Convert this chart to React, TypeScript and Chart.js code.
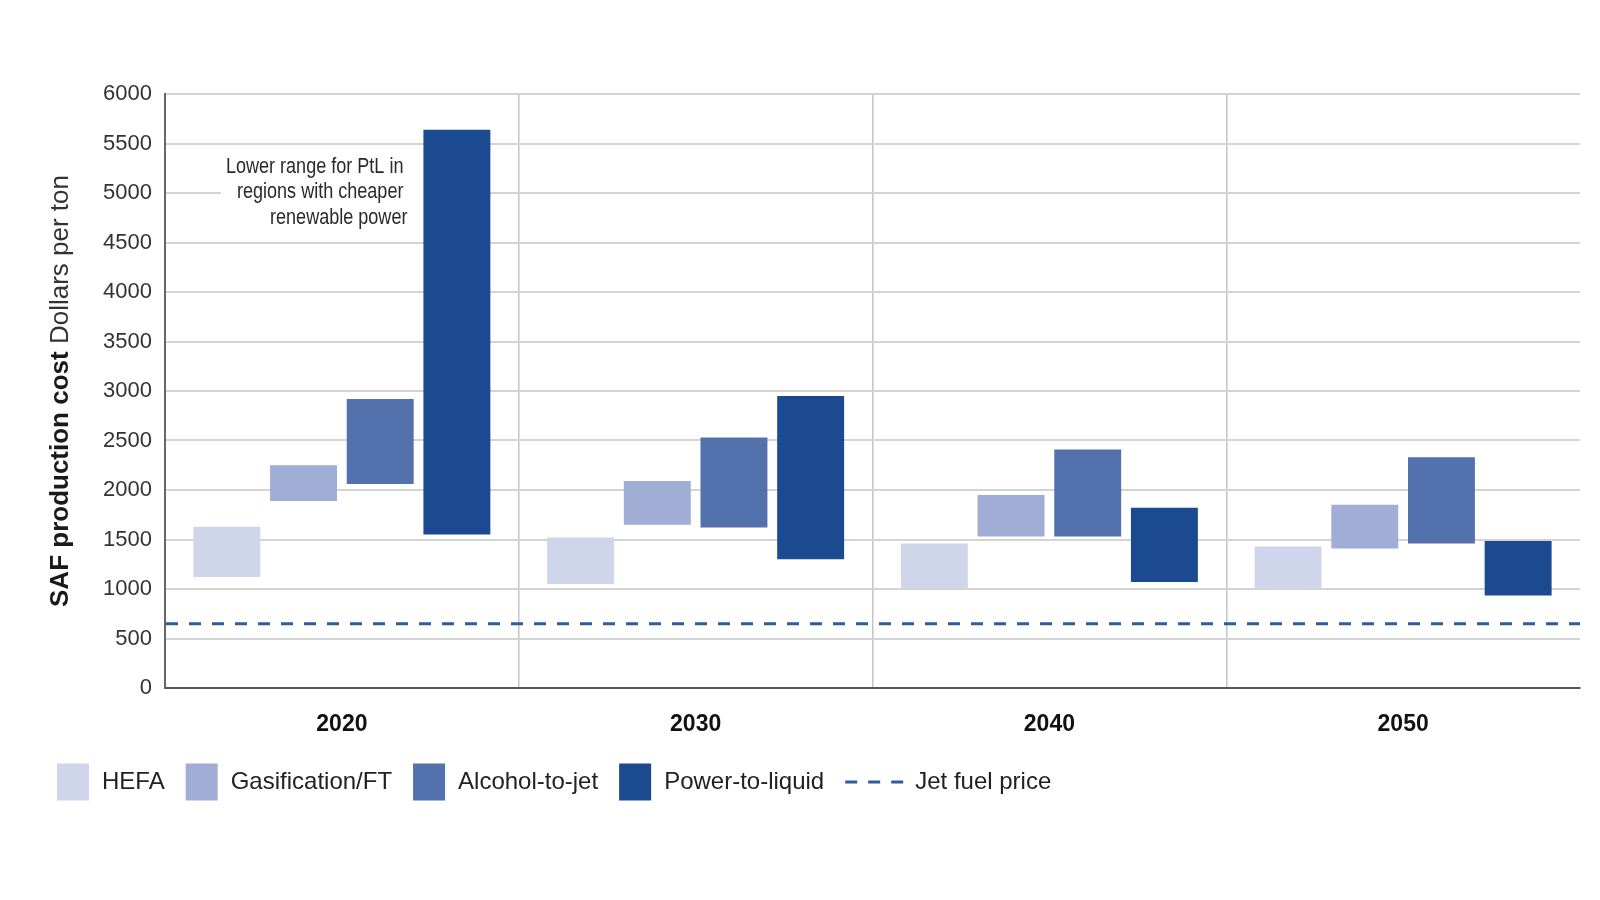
import React, { useEffect, useRef } from "react";
import { Chart, registerables } from "chart.js";

Chart.register(...registerables);

// ---------- data ----------
const YEARS = ["2020", "2030", "2040", "2050"];
const HEFA = [[1120, 1630], [1050, 1520], [1010, 1460], [1000, 1430]];
const GASIFICATION_FT = [[1890, 2250], [1650, 2090], [1530, 1950], [1410, 1850]];
const ALCOHOL_TO_JET = [[2060, 2920], [1620, 2530], [1530, 2410], [1460, 2330]];
const POWER_TO_LIQUID = [[1550, 5640], [1300, 2950], [1070, 1820], [935, 1485]];
const JET_FUEL_PRICE = 650;

const Y_MIN = 0;
const Y_MAX = 6000;
const Y_STEP = 500;

const SERIES_NAMES = ["HEFA", "Gasification/FT", "Alcohol-to-jet", "Power-to-liquid"];
const LINE_NAME = "Jet fuel price";
const Y_TITLE_BOLD = "SAF production cost";
const Y_TITLE_REGULAR = "Dollars per ton";
const NOTE_LINES = ["Lower range for PtL in", "regions with cheaper", "renewable power"];
const NOTE_ANCHOR_VALUE = 5000;

// ---------- styles ----------
const COLORS = ["#cfd5ea", "#a0aed5", "#5372ad", "#1b4a90"];
const LINE_COLOR = "#2b5d9f";
const FONT = '"Liberation Sans", Arial, Helvetica, sans-serif';

// jet fuel price reference line, drawn across the plot through the y scale
const priceLinePlugin = {
  id: "priceLine",
  beforeDatasetsDraw(chart: any) {
    const { ctx, chartArea } = chart;
    const y = chart.scales.y.getPixelForValue(JET_FUEL_PRICE);
    ctx.save();
    ctx.strokeStyle = LINE_COLOR;
    ctx.lineWidth = 3;
    ctx.setLineDash([12, 11]);
    ctx.beginPath();
    ctx.moveTo(chartArea.left + 1, y);
    ctx.lineTo(chartArea.right, y);
    ctx.stroke();
    ctx.restore();
  },
};

const yTitlePlugin = {
  id: "yTitle",
  afterDraw(chart: any) {
    const { ctx, chartArea } = chart;
    const cy = (chartArea.top + chartArea.bottom) / 2;
    ctx.save();
    ctx.translate(61, cy);
    ctx.rotate(-Math.PI / 2);
    ctx.textBaseline = "middle";
    ctx.textAlign = "left";
    const bold = `bold 26px ${FONT}`;
    const reg = `26px ${FONT}`;
    ctx.font = bold;
    const w1 = ctx.measureText(Y_TITLE_BOLD + " ").width;
    ctx.font = reg;
    const w2 = ctx.measureText(Y_TITLE_REGULAR).width;
    const start = -(w1 + w2) / 2;
    ctx.font = bold;
    ctx.fillStyle = "#1a1a1a";
    ctx.fillText(Y_TITLE_BOLD, start, 0);
    ctx.font = reg;
    ctx.fillStyle = "#333";
    ctx.fillText(Y_TITLE_REGULAR, start + w1, 0);
    ctx.restore();
  },
};

const notePlugin = {
  id: "note",
  beforeDatasetsDraw(chart: any) {
    const { ctx, chartArea } = chart;
    const meta = chart.getDatasetMeta(3);
    const bar = meta.data[0];
    if (!bar) return;
    const p = bar.getProps(["x", "width"], true);
    const barLeft = p.x - p.width / 2;
    const rightX = barLeft - 20;
    const midY = chart.scales.y.getPixelForValue(NOTE_ANCHOR_VALUE) - 1;
    const lh = 25.5;
    const sx = 0.82;
    ctx.save();
    ctx.font = `22px ${FONT}`;
    let maxW = 0;
    NOTE_LINES.forEach((l) => (maxW = Math.max(maxW, ctx.measureText(l).width * sx)));
    const boxLeft = Math.max(chartArea.left + 40, rightX - maxW - 5);
    ctx.fillStyle = "#ffffff";
    ctx.fillRect(boxLeft, midY - lh - 13, barLeft - boxLeft, lh * 2 + 26);
    ctx.fillStyle = "#2a2a2a";
    ctx.textBaseline = "middle";
    ctx.textAlign = "right";
    NOTE_LINES.forEach((l, i) => {
      ctx.save();
      ctx.translate(rightX + (i === 2 ? 4 : 0), midY + (i - 1) * lh);
      ctx.scale(sx, 1);
      ctx.fillText(l, 0, 0);
      ctx.restore();
    });
    ctx.restore();
  },
};

const legendPlugin = {
  id: "customLegend",
  afterDraw(chart: any) {
    const { ctx } = chart;
    ctx.save();
    ctx.font = `24px ${FONT}`;
    ctx.textBaseline = "middle";
    ctx.textAlign = "left";
    const cy = 782;
    let x = 57;
    SERIES_NAMES.forEach((name, i) => {
      ctx.fillStyle = COLORS[i];
      ctx.fillRect(x, cy - 18.5, 32, 37);
      x += 32 + 13;
      ctx.fillStyle = "#222";
      ctx.fillText(name, x, cy);
      x += ctx.measureText(name).width + 21;
    });
    ctx.strokeStyle = LINE_COLOR;
    ctx.lineWidth = 3;
    ctx.setLineDash([12, 11]);
    ctx.beginPath();
    ctx.moveTo(x, cy);
    ctx.lineTo(x + 58, cy);
    ctx.stroke();
    ctx.setLineDash([]);
    x += 58 + 12;
    ctx.fillStyle = "#222";
    ctx.fillText(LINE_NAME, x, cy);
    ctx.restore();
  },
};

export default function App() {
  const ref = useRef<HTMLCanvasElement | null>(null);

  useEffect(() => {
    if (!ref.current) return;
    const barSeries = [HEFA, GASIFICATION_FT, ALCOHOL_TO_JET, POWER_TO_LIQUID];
    const datasets: any[] = barSeries.map((d, i) => ({
      label: SERIES_NAMES[i],
      data: d,
      backgroundColor: COLORS[i],
      borderWidth: 0,
      barPercentage: 0.873,
      categoryPercentage: 0.867,
    }));

    const chart = new Chart(ref.current, {
      type: "bar",
      data: { labels: YEARS, datasets },
      options: {
        animation: false,
        responsive: true,
        maintainAspectRatio: false,
        layout: { padding: { left: 0, right: 20, top: 94, bottom: 152 } },
        plugins: {
          legend: { display: false },
          tooltip: { enabled: false },
          title: { display: false },
        },
        scales: {
          x: {
            type: "category",
            offset: true,
            grid: {
              offset: true,
              drawTicks: false,
              lineWidth: 1.5,
              color: (c: any) =>
                c.type !== "tick" || c.index === 0 ? "rgba(0,0,0,0)" : "#c4c4c4",
            },
            border: { display: true, color: "#555", width: 2 },
            ticks: {
              padding: 23,
              color: "#111",
              font: { family: FONT, size: 23, weight: "bold" },
            },
            afterFit: (s: any) => {
              s.height = 60;
            },
          },
          y: {
            min: Y_MIN,
            max: Y_MAX,
            ticks: {
              stepSize: Y_STEP,
              padding: 13,
              color: "#333",
              font: { family: FONT, size: 22 },
              callback: (v: any) => String(v),
            },
            grid: { drawTicks: false, color: "#d4d4d4", lineWidth: 2 },
            border: { display: true, color: "#666", width: 2 },
            afterFit: (s: any) => {
              s.width = 165;
            },
          },
        },
      } as any,
      plugins: [priceLinePlugin, notePlugin, yTitlePlugin, legendPlugin],
    });
    return () => chart.destroy();
  }, []);

  return (
    <div
      style={{
        position: "fixed",
        left: 0,
        top: 0,
        width: 1600,
        height: 900,
        background: "#ffffff",
      }}
    >
      <canvas ref={ref} />
    </div>
  );
}
